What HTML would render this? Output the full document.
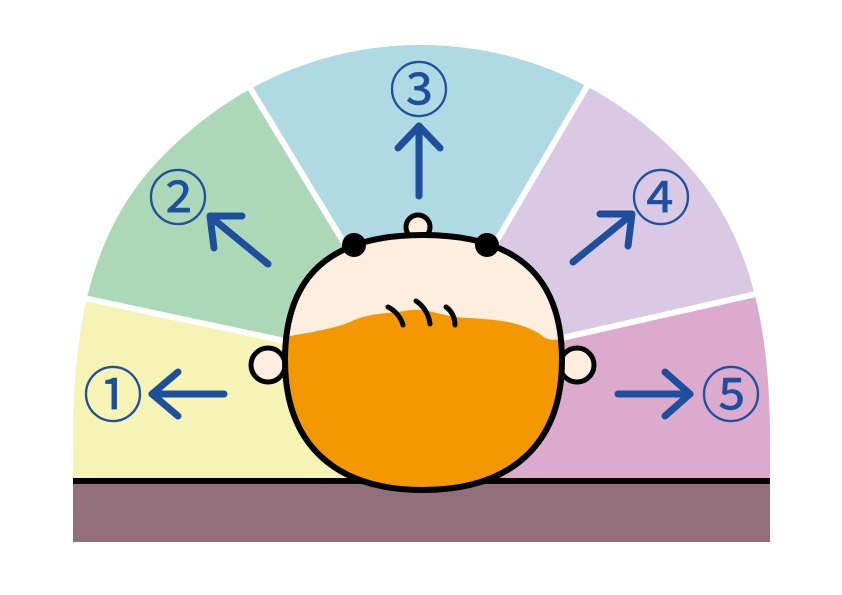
<!DOCTYPE html>
<html><head><style>html,body{margin:0;padding:0;background:#fff}svg{display:block}</style></head><body>
<svg width="842" height="595" viewBox="0 0 842 595" xmlns="http://www.w3.org/2000/svg">
<defs>
<clipPath id="fan"><path d="M73,482 L73,440 C73,330 90,240 150,170 C230,80 330,45 421,45 C512,45 612,80 692,170 C752,240 770,330 770,440 L770,482 Z"/></clipPath>
</defs>
<g clip-path="url(#fan)">
<rect x="60" y="30" width="740" height="460" fill="#f5f4b5"/>
<polygon points="421,370 60,293 60,30 215,30" fill="#acd8b8"/>
<polygon points="421,370 215,30 620,30" fill="#afd9e3"/>
<polygon points="421,370 620,30 800,30 800,284" fill="#d9c9e4"/>
<polygon points="421,370 800,284 800,490 421,490" fill="#dcaacc"/>
<g stroke="#fff" stroke-width="6">
<line x1="60" y1="293" x2="421" y2="370"/>
<line x1="215" y1="30" x2="421" y2="370"/>
<line x1="620" y1="30" x2="421" y2="370"/>
<line x1="800" y1="284" x2="421" y2="370"/>
</g>
</g>
<rect x="73" y="482" width="697" height="60" fill="#936e7b"/>
<rect x="73" y="478" width="697" height="6" fill="#000"/>
<g stroke="#1e4f9c" stroke-width="7" stroke-linecap="round" stroke-linejoin="round" fill="none">
<line x1="224" y1="394" x2="152" y2="394"/><polyline points="178,372 152,394 178,416"/>
<line x1="268" y1="264" x2="212" y2="218"/><polyline points="214,248 210,216 242,216"/>
<line x1="419" y1="196" x2="419" y2="126"/><polyline points="398,148 419,126 440,148"/>
<line x1="573" y1="262" x2="631" y2="215"/><polyline points="600,214 632,214 628,246"/>
<line x1="618" y1="394" x2="690" y2="394"/><polyline points="665,372 690,394 665,416"/>
</g>
<g fill="#1e4f9c" stroke="#1e4f9c" stroke-width="0.4" font-family="'Liberation Sans','Noto Sans CJK JP',sans-serif" font-size="60" text-anchor="middle">
<text x="113" y="417">①</text>
<text x="178" y="220">②</text>
<text x="419" y="112">③</text>
<text x="661" y="220">④</text>
<text x="731" y="417">⑤</text>
</g>
<g stroke="#000" stroke-width="5">
<circle cx="268" cy="365" r="17" fill="#fdeee0"/>
<circle cx="577" cy="365" r="17" fill="#fdeee0"/>
<circle cx="418" cy="227" r="12" fill="#fdeee0"/>
</g>
<path d="M423,235 C515,235 562,275 562,360 C562,445 510,490 423,490 C336,490 285,445 285,360 C285,275 331,235 423,235 Z" fill="#fdeee0"/>
<clipPath id="hc"><path d="M423,235 C515,235 562,275 562,360 C562,445 510,490 423,490 C336,490 285,445 285,360 C285,275 331,235 423,235 Z"/></clipPath>
<path clip-path="url(#hc)" d="M280,338 C310,332 330,330 350,322 C370,312 390,314 410,310 C430,308 445,318 470,318 C500,320 520,322 540,334 C548,342 556,340 570,338 L570,500 L280,500 Z" fill="#f39800"/>
<path d="M423,235 C515,235 562,275 562,360 C562,445 510,490 423,490 C336,490 285,445 285,360 C285,275 331,235 423,235 Z" fill="none" stroke="#000" stroke-width="6"/>
<circle cx="354" cy="245" r="12" fill="#000"/>
<circle cx="487" cy="245" r="12" fill="#000"/>
<g stroke="#000" stroke-width="5" stroke-linecap="round" fill="none">
<path d="M388,307 C396,311 401,318 403,325"/>
<path d="M416,301 C424,306 429,315 430,324"/>
<path d="M446,307 C452,311 455,318 455,325"/>
</g>
</svg>
</body></html>
